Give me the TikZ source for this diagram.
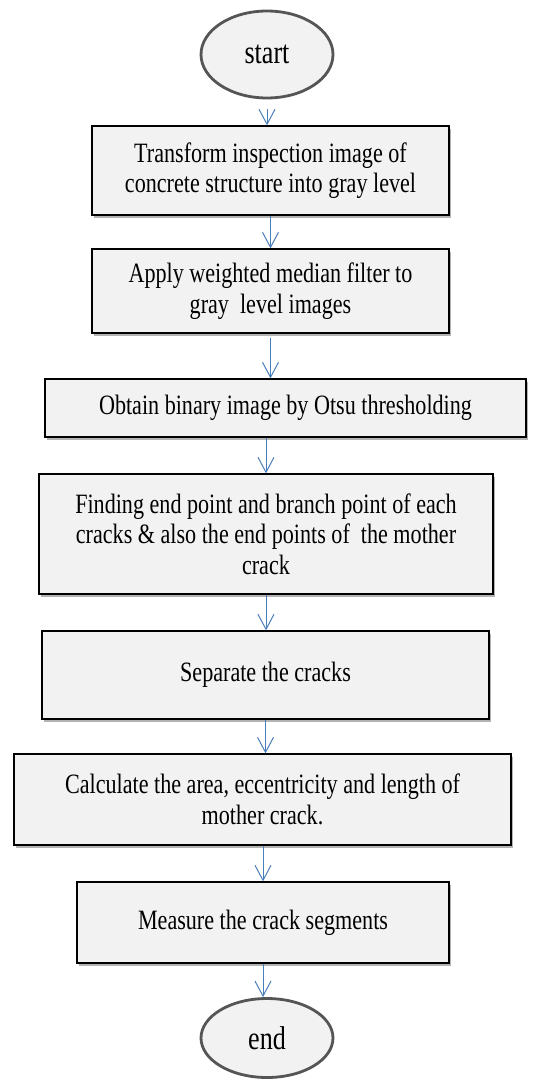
\documentclass[tikz,border=0pt]{standalone}
\usepackage{fontspec}
\setmainfont[FakeStretch=0.79]{Liberation Serif}
\usetikzlibrary{arrows.meta,shapes.geometric,shadows}
\definecolor{boxfill}{HTML}{F2F2F2}
\definecolor{ellline}{HTML}{555555}
\definecolor{arrblue}{HTML}{4A7EBB}
\begin{document}
\begin{tikzpicture}[x=1pt,y=-1pt,
  box/.style={draw=black, line width=1.3pt, fill=boxfill, inner sep=0pt, align=center,
    font=\fontsize{28}{30.5}\selectfont,
    drop shadow={shadow xshift=1.5pt, shadow yshift=-3pt, fill=black, opacity=0.3}},
  term/.style={ellipse, draw=ellline, line width=2.8pt, fill=boxfill, inner sep=0pt,
    minimum width=132pt, font=\fontsize{33}{36}\selectfont},
  arr/.style={draw=arrblue, line width=1pt, -{Straight Barb[length=15pt,width=16pt,line width=1pt]}}]
\useasboundingbox (0,0) rectangle (534,1081);
\fill[white] (0,0) rectangle (534,1081);
\node[term, minimum height=87pt] (st) at (267,54.5) {start};
\node[box, minimum width=357pt, minimum height=89pt] (b1) at (270.5,170.5)
  {Transform inspection image of\\concrete structure into gray level};
\node[box, minimum width=357pt, minimum height=84pt] (b2) at (270.5,291)
  {Apply weighted median filter to\\gray\ \ level images};
\node[box, minimum width=481pt, minimum height=58pt] (b3) at (285.5,408)
  {Obtain binary image by Otsu thresholding};
\node[box, minimum width=454pt, minimum height=120pt] (b4) at (266,534)
  {Finding end point and branch point of each\\cracks \& also the end points of\ \ the mother\\crack};
\node[box, minimum width=447pt, minimum height=88pt] (b5) at (265.5,675)
  {Separate the cracks};
\node[box, minimum width=497pt, minimum height=91pt] (b6) at (262.5,799.5)
  {Calculate the area, eccentricity and length of\\mother crack.};
\node[box, minimum width=372pt, minimum height=81pt] (b7) at (263,922.5)
  {Measure the crack segments};
\node[term, minimum height=79pt] (en) at (267,1038) {end};
\draw[arr, shorten <=10pt] (st.south) -- (st.south |- b1.north);
\draw[arr] (b1.south) -- (b1.south |- b2.north);
\draw[arr, shorten <=4pt] (b2.south) -- (b2.south |- b3.north);
\draw[arr] (b4.north |- b3.south) -- (b4.north);
\draw[arr] (b4.south) -- (b4.south |- b5.north);
\draw[arr] (b5.south) -- (b5.south |- b6.north);
\draw[arr] (b7.north |- b6.south) -- (b7.north);
\draw[arr] (b7.south) -- (b7.south |- en.north);
\end{tikzpicture}
\end{document}
